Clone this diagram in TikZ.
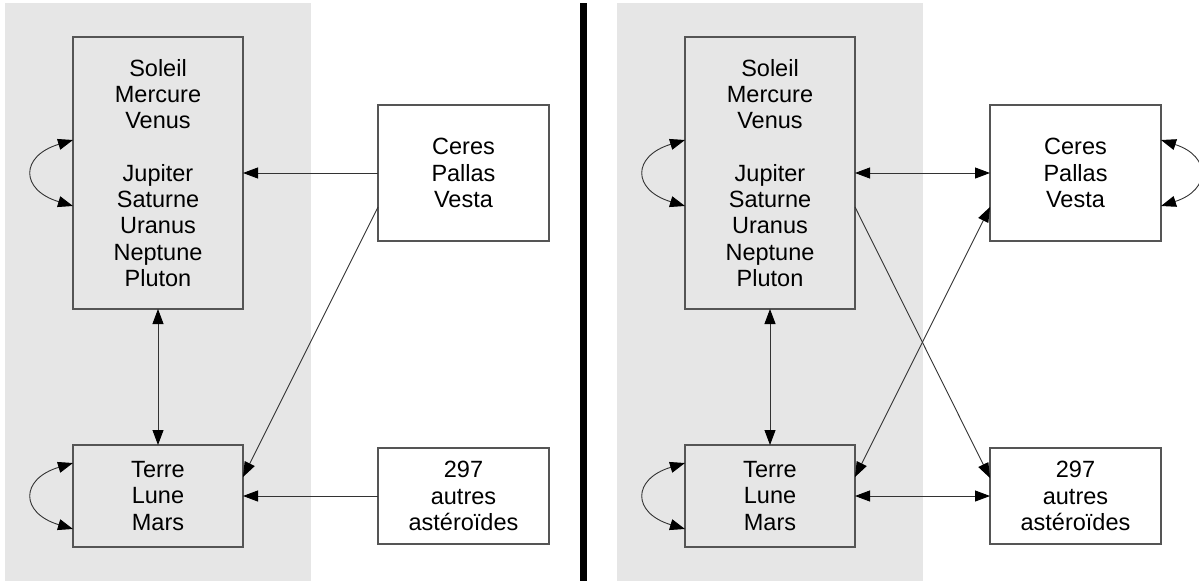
\documentclass[tikz,border=0pt]{standalone}
\usepackage{fontspec}
\setmainfont{Liberation Sans}
\usetikzlibrary{arrows.meta,positioning}
\definecolor{panelgray}{HTML}{E6E6E6}
\definecolor{edgegray}{HTML}{555555}
\tikzset{
  body box/.style={
    rectangle,
    draw=edgegray,
    line width=1.3pt,
    fill=panelgray,
    align=center,
    inner sep=0pt,
    outer sep=0pt,
    minimum width=170pt,
    font=\fontsize{23.5}{26.25}\selectfont,
  },
  rock box/.style={body box, fill=white, minimum width=171pt},
  tip/.tip={Triangle[length=15pt,width=11pt,color=black]},
  link/.style={-tip, line width=0.9pt, draw=black!80},
  link both/.style={tip-tip, line width=0.9pt, draw=black!80},
}

\begin{document}
\begin{tikzpicture}[x=1pt,y=-1pt]
  \useasboundingbox (0,0) rectangle (1199,581);
  % shaded groups and separator
  \fill[panelgray] (5,3) rectangle (311,581);
  \fill[panelgray] (617,3) rectangle (923,581);
  \draw[line width=7pt] (583,3) -- (583,581);

  % left panel
  \node[body box,minimum height=272pt] at (158,173) (big)
    {Soleil\\Mercure\\Venus\\[26.25pt]Jupiter\\Saturne\\Uranus\\Neptune\\Pluton};
  \node[body box,minimum height=102pt,below=136pt of big] (terre) {Terre\\Lune\\Mars};
  \node[rock box,minimum height=136pt,right=135pt of big] (ceres) {Ceres\\Pallas\\Vesta};
  \node[rock box,minimum height=96pt,right=135pt of terre] (ast) {297\\autres\\astéroïdes};

  \draw[link] (ceres.west) -- (big.east);
  \draw[link] ([yshift=-34pt]ceres.west) -- ([yshift=19pt]terre.east);
  \draw[link] (ast.west) -- (terre.east);
  \draw[link both] (big.south) -- (terre.north);
  \draw[link both] ([yshift=33pt]big.west) .. controls +(-53,16) and +(-53,-16) .. ([yshift=-33pt]big.west);
  \draw[link both] ([yshift=33pt]terre.west) .. controls +(-53,16) and +(-53,-16) .. ([yshift=-33pt]terre.west);

  % right panel
  \node[body box,minimum height=272pt] at (770,173) (big2)
    {Soleil\\Mercure\\Venus\\[26.25pt]Jupiter\\Saturne\\Uranus\\Neptune\\Pluton};
  \node[body box,minimum height=102pt,below=136pt of big2] (terre2) {Terre\\Lune\\Mars};
  \node[rock box,minimum height=136pt,right=135pt of big2] (ceres2) {Ceres\\Pallas\\Vesta};
  \node[rock box,minimum height=96pt,right=135pt of terre2] (ast2) {297\\autres\\astéroïdes};

  \draw[link both] (big2.east) -- (ceres2.west);
  \draw[link] ([yshift=-34pt]big2.east) -- ([yshift=18pt]ast2.west);
  \draw[link both] ([yshift=19pt]terre2.east) -- ([yshift=-34pt]ceres2.west);
  \draw[link both] (terre2.east) -- (ast2.west);
  \draw[link both] (big2.south) -- (terre2.north);
  \draw[link both] ([yshift=33pt]big2.west) .. controls +(-53,16) and +(-53,-16) .. ([yshift=-33pt]big2.west);
  \draw[link both] ([yshift=33pt]terre2.west) .. controls +(-53,16) and +(-53,-16) .. ([yshift=-33pt]terre2.west);
  \draw[link both] ([yshift=33pt]ceres2.east) .. controls +(50,16) and +(50,-16) .. ([yshift=-33pt]ceres2.east);
\end{tikzpicture}
\end{document}
